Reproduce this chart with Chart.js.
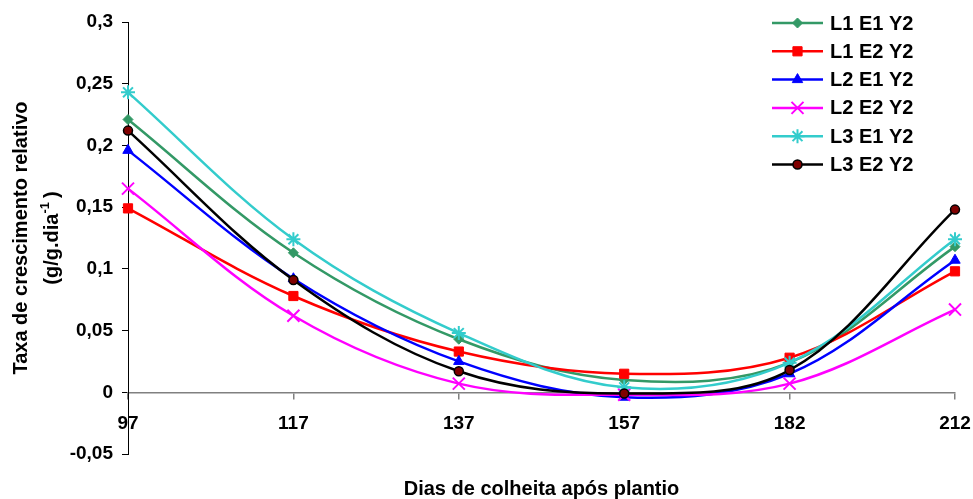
<!DOCTYPE html>
<html>
<head>
<meta charset="utf-8">
<title>Taxa de crescimento relativo</title>
<script src="https://cdn.jsdelivr.net/npm/chart.js@4/dist/chart.umd.min.js"></script>
<style>
  html, body { margin: 0; padding: 0; background: #ffffff; }
  #wrap { width: 973px; height: 499px; }
</style>
</head>
<body>
<div id="wrap"><canvas id="chart" width="973" height="499"></canvas></div>
<script>
// Harvest days after planting (category axis)
const days = ['97', '117', '137', '157', '182', '212'];

// Relative growth rate (g/g.dia-1) per treatment
const seriesNames = ['L1 E1 Y2', 'L1 E2 Y2', 'L2 E1 Y2', 'L2 E2 Y2', 'L3 E1 Y2', 'L3 E2 Y2'];
const l1e1 = [0.221, 0.113, 0.043, 0.010, 0.024, 0.118];
const l1e2 = [0.149, 0.078, 0.033, 0.015, 0.028, 0.098];
const l2e1 = [0.196, 0.092, 0.025, -0.004, 0.015, 0.107];
const l2e2 = [0.165, 0.062, 0.007, -0.002, 0.007, 0.067];
const l3e1 = [0.243, 0.124, 0.048, 0.004, 0.024, 0.124];
const l3e2 = [0.212, 0.091, 0.017, -0.001, 0.018, 0.148];

// Value axis
const yMin = -0.05;
const yMax = 0.3;
const yStep = 0.05;
const yTickLabels = ['-0,05', '0', '0,05', '0,1', '0,15', '0,2', '0,25', '0,3'];

const yTitleLine1 = 'Taxa de crescimento relativo';
const yTitleLine2 = '(g/g.dia';
const yTitleSup = '-1';
const yTitleEnd = ')';
const xTitle = 'Dias de colheita após plantio';

const FONT = '"Liberation Sans", Arial, Helvetica, sans-serif';

const styles = [
  { color: '#339966', fill: '#339966', point: 'rectRot',  radius: 5,   pbw: 1 },
  { color: '#ff0000', fill: '#ff0000', point: 'rect',     radius: 6.5, pbw: 1 },
  { color: '#0000ff', fill: '#0000ff', point: 'triangle', radius: 6,   pbw: 1 },
  { color: '#ff00ff', fill: '#ff00ff', point: 'crossRot', radius: 8.5, pbw: 2 },
  { color: '#33cccc', fill: '#33cccc', point: 'star',     radius: 7,   pbw: 2 },
  { color: '#000000', fill: '#800000', point: 'circle',   radius: 4.5, pbw: 1.5 }
];
const values = [l1e1, l1e2, l2e1, l2e2, l3e1, l3e2];

const datasets = values.map((data, i) => ({
  label: seriesNames[i],
  data: data,
  borderColor: styles[i].color,
  backgroundColor: styles[i].fill,
  pointBackgroundColor: styles[i].fill,
  pointBorderColor: styles[i].color,
  pointStyle: styles[i].point,
  pointRadius: styles[i].radius,
  pointHoverRadius: styles[i].radius,
  pointBorderWidth: styles[i].pbw,
  borderWidth: 2.5,
  tension: 0.35,
  fill: false,
  clip: false,
  order: values.length - i
}));

// Rotated two-line value-axis title with superscript, plus category-axis title
const titlesPlugin = {
  id: 'axisTitles',
  afterDraw(chart) {
    const ctx = chart.ctx;
    const area = chart.chartArea;
    const cy = (area.top + area.bottom) / 2;
    ctx.save();
    ctx.fillStyle = '#000';
    ctx.textBaseline = 'middle';

    // value axis title
    ctx.save();
    ctx.translate(21, cy);
    ctx.rotate(-Math.PI / 2);
    ctx.font = 'bold 20px ' + FONT;
    ctx.textAlign = 'center';
    ctx.fillText(yTitleLine1, 0, 0);
    ctx.restore();

    ctx.save();
    ctx.translate(52, cy);
    ctx.rotate(-Math.PI / 2);
    ctx.textAlign = 'left';
    ctx.font = 'bold 20px ' + FONT;
    const w1 = ctx.measureText(yTitleLine2).width;
    const w3 = ctx.measureText(yTitleEnd).width;
    ctx.font = 'bold 13px ' + FONT;
    const w2 = ctx.measureText(yTitleSup).width;
    let x = -(w1 + w2 + w3 + 4) / 2;
    ctx.font = 'bold 20px ' + FONT;
    ctx.fillText(yTitleLine2, x, 0);
    x += w1;
    ctx.font = 'bold 13px ' + FONT;
    ctx.fillText(yTitleSup, x, -7);
    x += w2 + 4;
    ctx.font = 'bold 20px ' + FONT;
    ctx.fillText(yTitleEnd, x, 0);
    ctx.restore();

    // category axis title
    ctx.font = 'bold 20px ' + FONT;
    ctx.textAlign = 'center';
    ctx.fillText(xTitle, (area.left + area.right) / 2, 489);
    ctx.restore();
  }
};

// Legend drawn as line + marker + label, like the series themselves
const legendPlugin = {
  id: 'lineLegend',
  afterDraw(chart) {
    const ctx = chart.ctx;
    const x0 = 772, x1 = 823, tx = 830, top = 23, gap = 28.3;
    ctx.save();
    chart.data.datasets.forEach((ds, i) => {
      const y = top + i * gap;
      ctx.strokeStyle = ds.borderColor;
      ctx.lineWidth = ds.borderWidth;
      ctx.beginPath();
      ctx.moveTo(x0, y);
      ctx.lineTo(x1, y);
      ctx.stroke();
      ctx.fillStyle = ds.pointBackgroundColor;
      ctx.strokeStyle = ds.pointBorderColor;
      ctx.lineWidth = ds.pointBorderWidth;
      Chart.helpers.drawPoint(ctx, {
        pointStyle: ds.pointStyle,
        radius: ds.pointRadius,
        rotation: 0,
        borderWidth: ds.pointBorderWidth
      }, (x0 + x1) / 2, y);
      ctx.fillStyle = '#000';
      ctx.font = 'bold 20px ' + FONT;
      ctx.textAlign = 'left';
      ctx.textBaseline = 'middle';
      ctx.fillText(ds.label, tx, y + 1);
    });
    ctx.restore();
  }
};

new Chart(document.getElementById('chart'), {
  type: 'line',
  data: { labels: days, datasets: datasets },
  options: {
    responsive: false,
    animation: false,
    events: [],
    layout: { padding: { top: 22, right: 18, bottom: 45, left: 0 } },
    plugins: {
      legend: { display: false },
      tooltip: { enabled: false },
      title: { display: false }
    },
    scales: {
      x: {
        type: 'category',
        offset: false,
        position: { y: 0 },
        grid: { drawOnChartArea: false, drawTicks: true, tickLength: 6, color: '#808080', lineWidth: 1.5 },
        border: { display: true, color: '#808080', width: 1.5 },
        ticks: {
          color: '#000',
          font: { family: FONT, size: 19, weight: 'bold' },
          padding: 14,
          maxRotation: 0,
          autoSkip: false
        },
        afterFit(scale) {
          // edge labels may run into the outer margin
          scale.paddingLeft = 0;
          scale.paddingRight = 0;
        }
      },
      y: {
        min: yMin,
        max: yMax,
        grid: { drawOnChartArea: false, drawTicks: true, tickLength: 6, color: '#000', lineWidth: 1 },
        border: { display: true, color: '#000', width: 1 },
        ticks: {
          stepSize: yStep,
          color: '#000',
          font: { family: FONT, size: 19, weight: 'bold' },
          padding: 9,
          callback: (v) => yTickLabels[Math.round((v - yMin) / yStep)]
        },
        afterFit(scale) { scale.width = 128; }
      }
    }
  },
  plugins: [titlesPlugin, legendPlugin]
});
</script>
</body>
</html>
